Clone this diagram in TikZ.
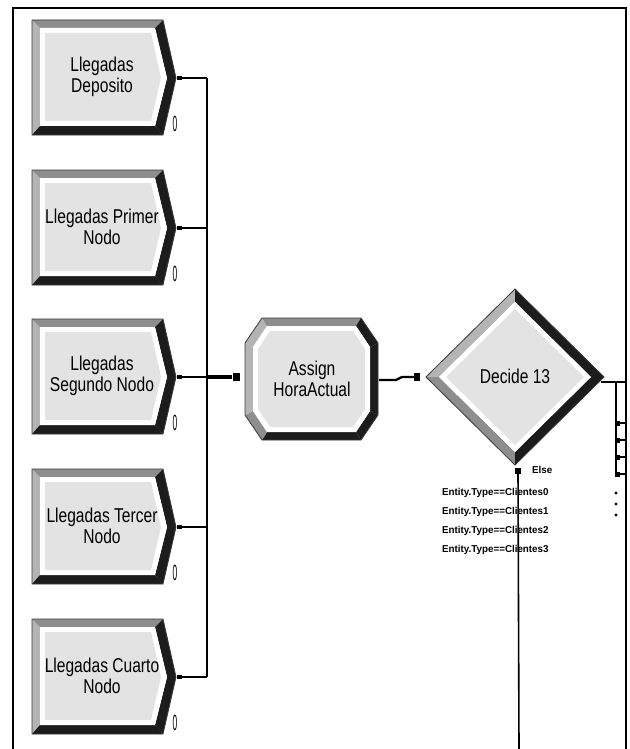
\documentclass[tikz,border=0pt]{standalone}
\usepackage{fontspec}
\setmainfont{Liberation Sans}
\newfontfamily\modfont[FakeStretch=0.78]{Liberation Sans}
\newfontfamily\cntfont[FakeStretch=0.38]{Liberation Sans}
\newfontfamily\condfont[FakeStretch=0.98]{Liberation Sans}
\definecolor{bevlight}{HTML}{B4B4B4}
\definecolor{bevmid}{HTML}{8E8E8E}
\definecolor{bevdark}{HTML}{1C1C1C}
\definecolor{facegray}{HTML}{E3E3E3}
\definecolor{rimgray}{HTML}{3A3A3A}
\tikzset{
  modlabel/.style={align=center, font=\modfont\fontsize{20}{21.5}\selectfont, inner sep=0pt},
  count/.style={font=\cntfont\fontsize{22}{22}\selectfont, inner sep=0pt},
  cond/.style={anchor=west, font=\condfont\bfseries\fontsize{10}{10}\selectfont, inner sep=0pt},
  rim/.style={draw=rimgray, line width=0.8pt, line join=miter},
  conn/.style={draw=black, line width=1.9pt},
  heavyconn/.style={draw=black, line width=3.4pt},
  bus/.style={draw=black, line width=1.3pt},
  thinline/.style={draw=black, line width=1.2pt},
  portsq/.style={rectangle, fill=black, inner sep=0pt, minimum width=7pt, minimum height=8pt},
  tinysq/.style={rectangle, fill=black, inner sep=0pt, minimum width=4pt, minimum height=5pt},
  framebox/.style={draw=black, line width=1.6pt}
}
% Create module: name, tip y, first text line, second text line
\newcommand\arenacreate[4]{%
\begin{scope}[shift={(0,#2)}]
  \fill[bevlight] (32,-58) -- (40,-50) -- (40,48) -- (32,57) -- cycle;
  \fill[bevmid] (32,-58) -- (163,-58) -- (155,-50) -- (40,-50) -- cycle;
  \fill[bevdark] (163,-58) -- (176,0) -- (167,0) -- (155,-50) -- cycle;
  \fill[bevdark] (176,0) -- (163,57) -- (155,48) -- (167,0) -- cycle;
  \fill[bevdark] (163,57) -- (32,57) -- (40,48) -- (155,48) -- cycle;
  \fill[white] (40,-50) -- (155,-50) -- (167,0) -- (155,48) -- (40,48) -- cycle;
  \fill[facegray] (45,-45) -- (151,-45) -- (161,0) -- (151,43) -- (45,43) -- cycle;
  \draw[rim] (32,-58) -- (163,-58) -- (176,0) -- (163,57) -- (32,57) -- cycle;
  \node[modlabel] (#1) at (102,-1) {#3\\#4};
  \coordinate (#1-out) at (177,0);
  \coordinate (#1-bus) at (207,0);
  \node[count] (#1-n) at (175,46) {0};
\end{scope}}
\begin{document}
\begin{tikzpicture}[x=1pt,y=-1pt]
\useasboundingbox (0,0) rectangle (629,749);
\fill[white] (0,0) rectangle (629,749);

% outer frame (open at the bottom)
\draw[framebox] (13,749) -- (13,8) -- (626,8) -- (626,749);

% arrival modules
\arenacreate{c1}{78}{Llegadas}{Deposito}
\arenacreate{c2}{228}{Llegadas Primer}{Nodo}
\arenacreate{c3}{377}{Llegadas}{Segundo Nodo}
\arenacreate{c4}{527}{Llegadas Tercer}{Nodo}
\arenacreate{c5}{677}{Llegadas Cuarto}{Nodo}

% connectors from each module into the common bus
\foreach \c in {c1,c2,c3,c4,c5}{
  \draw[conn] (\c-out) -- (\c-bus);
  \draw[black, line width=3.4pt] (\c-out) -- ++(5,0);
}
\draw[bus] (c1-bus) -- (c5-bus);

% Assign module
\fill[bevlight] (245,343) -- (262,318) -- (267,326) -- (253,347) -- cycle;
\fill[bevmid] (262,318) -- (361,318) -- (356,326) -- (267,326) -- cycle;
\fill[bevdark] (361,318) -- (378,343) -- (370,347) -- (356,326) -- cycle;
\fill[bevdark] (378,343) -- (378,415) -- (370,411) -- (370,347) -- cycle;
\fill[bevdark] (378,415) -- (361,440) -- (356,432) -- (370,411) -- cycle;
\fill[bevdark] (361,440) -- (262,440) -- (267,432) -- (356,432) -- cycle;
\fill[bevmid] (262,440) -- (245,415) -- (253,411) -- (267,432) -- cycle;
\fill[bevlight] (245,415) -- (245,343) -- (253,347) -- (253,411) -- cycle;
\fill[white] (267,326) -- (356,326) -- (370,347) -- (370,411) -- (356,432) -- (267,432) -- (253,411) -- (253,347) -- cycle;
\fill[facegray] (270,331) -- (353,331) -- (365,349) -- (365,409) -- (353,427) -- (270,427) -- (258,409) -- (258,349) -- cycle;
\draw[rim] (262,318) -- (361,318) -- (378,343) -- (378,415) -- (361,440) -- (262,440) -- (245,415) -- (245,343) -- cycle;
\node[modlabel] (asg) at (312,379) {Assign\\HoraActual};
\coordinate (asg-out) at (379,380);
\node[portsq] (asg-in) at (236,377) {};

\draw[heavyconn] (c3-bus) -- (asg-in.west);

% Decide module
\fill[bevlight] (426,377) -- (515,289) -- (515,302) -- (439,377) -- cycle;
\fill[bevmid] (426,377) -- (439,377) -- (515,452) -- (515,465) -- cycle;
\fill[bevdark] (515,289) -- (604,377) -- (591,377) -- (515,302) -- cycle;
\fill[bevdark] (604,377) -- (515,465) -- (515,452) -- (591,377) -- cycle;
\fill[white] (439,377) -- (515,302) -- (591,377) -- (515,452) -- cycle;
\fill[facegray] (446,377) -- (515,309) -- (584,377) -- (515,445) -- cycle;
\draw[rim] (426,377) -- (515,289) -- (604,377) -- (515,465) -- cycle;
\node[font=\modfont\fontsize{20}{21.5}\selectfont, inner sep=0pt] (dec) at (515,376) {Decide 13};
\node[tinysq, minimum width=6pt, minimum height=8pt] (dec-in) at (417,377) {};
\coordinate (dec-out) at (601,382);
\coordinate (dec-edge) at (626,382);
\node[tinysq, minimum width=6pt, minimum height=6pt] (dec-else) at (518,471) {};
\coordinate (else-end) at (519,749);

% Assign to Decide
\draw[black, line width=2.4pt] (asg-out) -- ++(17,0) -- ++(6,-3) -- (dec-in.west);

% Decide outputs on the right
\draw[thinline] (dec-out) -- (dec-edge);
\coordinate (br-top) at (616,382);
\coordinate (br-bot) at (616,477);
\draw[thinline] (br-top) -- (br-bot);
\foreach \ty in {423,440,457,474}{
  \coordinate (tk) at (616,\ty);
  \draw[thinline] (tk) -- ++(10,0);
  \node[tinysq] at (618,\ty) {};
}
\foreach \ty in {493,504,515}{
  \fill (616,\ty) circle (1.6pt);
}

% condition labels and the Else exit
\node[cond] (k0) at (442,493) {Entity.Type==Clientes0};
\node[cond] (k1) at (442,512) {Entity.Type==Clientes1};
\node[cond] (k2) at (442,531) {Entity.Type==Clientes2};
\node[cond] (k3) at (442,550) {Entity.Type==Clientes3};
\node[cond] (elselbl) at (532,470) {Else};
\draw[black, line width=1.6pt] (dec-else.center) -- (else-end);
\end{tikzpicture}
\end{document}
